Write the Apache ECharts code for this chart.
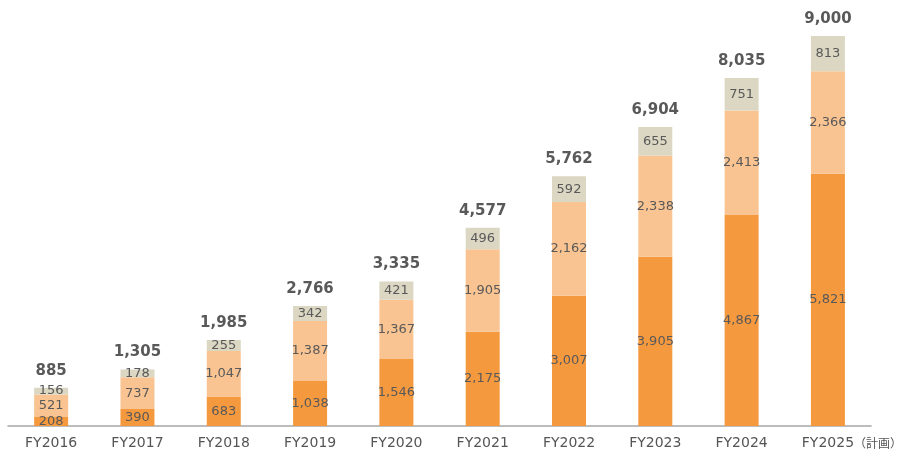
<!DOCTYPE html>
<html>
<head>
<meta charset="utf-8">
<script src="https://cdn.jsdelivr.net/npm/echarts@6/dist/echarts.min.js"></script>
<style>
html, body { margin: 0; padding: 0; background: #fff; }
#main { width: 905px; height: 454px; }
</style>
</head>
<body>
<div id="main"></div>
<script>
var myChart = echarts.init(document.getElementById('main'));

var years = ['FY2016', 'FY2017', 'FY2018', 'FY2019', 'FY2020', 'FY2021', 'FY2022', 'FY2023', 'FY2024', 'FY2025'];
var bottomVals = [208, 390, 683, 1038, 1546, 2175, 3007, 3905, 4867, 5821];
var middleVals = [521, 737, 1047, 1387, 1367, 1905, 2162, 2338, 2413, 2366];
var topVals = [156, 178, 255, 342, 421, 496, 592, 655, 751, 813];
var totals = [885, 1305, 1985, 2766, 3335, 4577, 5762, 6904, 8035, 9000];

var font = 'DejaVu Sans';

function fmt(v) {
    return v.toLocaleString('en-US');
}

var segLabel = {
    show: true,
    position: 'inside',
    color: '#595959',
    fontFamily: font,
    fontSize: 13,
    formatter: function (p) { return fmt(p.value); }
};

option = {
    backgroundColor: '#fff',
    animation: false,
    grid: {
        left: 8,
        right: 33,
        top: 36,
        bottom: 28
    },
    xAxis: {
        type: 'category',
        data: years,
        axisLine: {
            lineStyle: { color: '#a6a6a6', width: 1.5 }
        },
        axisTick: { show: false },
        axisLabel: {
            interval: 0,
            color: '#555',
            fontFamily: font,
            fontSize: 14,
            margin: 10,
            formatter: function (v) {
                if (v === 'FY2025') {
                    return '{p|}{a|' + v + '}{b|（計画）}';
                }
                return v;
            },
            rich: {
                a: { color: '#555', fontFamily: font, fontSize: 14 },
                b: { color: '#555', fontFamily: 'Noto Sans CJK JP', fontSize: 12, width: 48 },
                p: { width: 48 }
            }
        }
    },
    yAxis: {
        type: 'value',
        min: 0,
        max: 9000,
        show: false,
        splitLine: { show: false }
    },
    series: [
        {
            type: 'bar',
            stack: 'total',
            data: bottomVals,
            barWidth: 34,
            itemStyle: { color: '#f5993f' },
            label: segLabel
        },
        {
            type: 'bar',
            stack: 'total',
            data: middleVals,
            barWidth: 34,
            itemStyle: { color: '#f9c491' },
            label: segLabel
        },
        {
            type: 'bar',
            stack: 'total',
            data: topVals,
            barWidth: 34,
            itemStyle: { color: '#dbd7c3' },
            label: segLabel
        },
        {
            // invisible carrier for the totals above each bar
            type: 'line',
            data: totals,
            symbol: 'circle',
            symbolSize: 1,
            showSymbol: true,
            itemStyle: { color: 'rgba(0,0,0,0)' },
            lineStyle: { color: 'rgba(0,0,0,0)' },
            silent: true,
            label: {
                show: true,
                position: 'top',
                distance: 9,
                color: '#595959',
                fontFamily: font,
                fontWeight: 'bold',
                fontSize: 15,
                formatter: function (p) { return fmt(p.value); }
            }
        }
    ]
};
myChart.setOption(option);
</script>
</body>
</html>
